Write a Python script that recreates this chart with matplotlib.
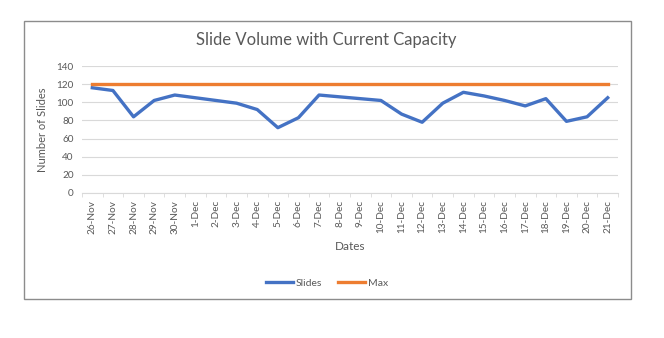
import numpy as np
import matplotlib
matplotlib.use("Agg")
import matplotlib.pyplot as plt
from matplotlib.patches import Rectangle

# chart data
dates = ["26-Nov", "27-Nov", "28-Nov", "29-Nov", "30-Nov", "1-Dec", "2-Dec", "3-Dec",
         "4-Dec", "5-Dec", "6-Dec", "7-Dec", "8-Dec", "9-Dec", "10-Dec", "11-Dec",
         "12-Dec", "13-Dec", "14-Dec", "15-Dec", "16-Dec", "17-Dec", "18-Dec",
         "19-Dec", "20-Dec", "21-Dec"]
slides = [116, 113, 84, 102, 108, 105, 102, 99, 92, 72, 83, 108, 106, 104,
          102, 87, 78, 99, 111, 107, 102, 96, 104, 79, 84, 105]
max_cap = [120] * len(dates)
yticks = [0, 20, 40, 60, 80, 100, 120, 140]

plt.rcParams['font.family'] = ['Lato', 'DejaVu Sans']
grey = '#595959'

fig = plt.figure(figsize=(6.64, 3.38), dpi=100)
# outer chart border
fig.patches.append(Rectangle((24/664, 1-299/338), (631-24)/664, (299-21)/338,
                             transform=fig.transFigure, fill=False,
                             edgecolor='#8c8c8c', linewidth=1.0))

ax = fig.add_axes([82/664, 1-193/338, 536/664, 127/338])
x = np.arange(len(dates))
ax.plot(x, slides, color='#4472C4', linewidth=2.4, label='Slides', solid_joinstyle='round')
ax.plot(x, max_cap, color='#ED7D31', linewidth=2.4, label='Max')

ax.set_xlim(-0.5, len(dates) - 0.5)
ax.set_ylim(0, 140)
ax.set_yticks(yticks)
ax.set_xticks(x)
ax.set_xticklabels(dates, rotation=90, fontsize=7.2, color=grey)
ax.set_xticks(np.arange(-0.5, len(dates), 1), minor=True)
ax.tick_params(axis='x', which='major', length=0, pad=5)
ax.tick_params(axis='x', which='minor', length=3, color='#d9d9d9')
ax.tick_params(axis='y', length=0, labelsize=7.2, labelcolor=grey, pad=6)
ax.grid(axis='y', color='#d9d9d9', linewidth=0.8)
ax.set_axisbelow(True)
for s in ['top', 'right', 'left']:
    ax.spines[s].set_visible(False)
ax.spines['bottom'].set_color('#d9d9d9')

ax.set_ylabel('Number of Slides', fontsize=8, color=grey, labelpad=6)
fig.text(350/664, 1-247/338, 'Dates', ha='center', va='center', fontsize=8.5, color=grey)
fig.text(326/664, 1-40/338, 'Slide Volume with Current Capacity', ha='center',
         va='center', fontsize=12, color=grey)

leg = fig.legend(loc='center', bbox_to_anchor=(327/664, 1-283/338), ncol=2,
                 frameon=False, fontsize=7.5, handlelength=2.6, handletextpad=0.3,
                 columnspacing=1.5)
for t in leg.get_texts():
    t.set_color(grey)

fig.savefig('out.png', dpi=100)
